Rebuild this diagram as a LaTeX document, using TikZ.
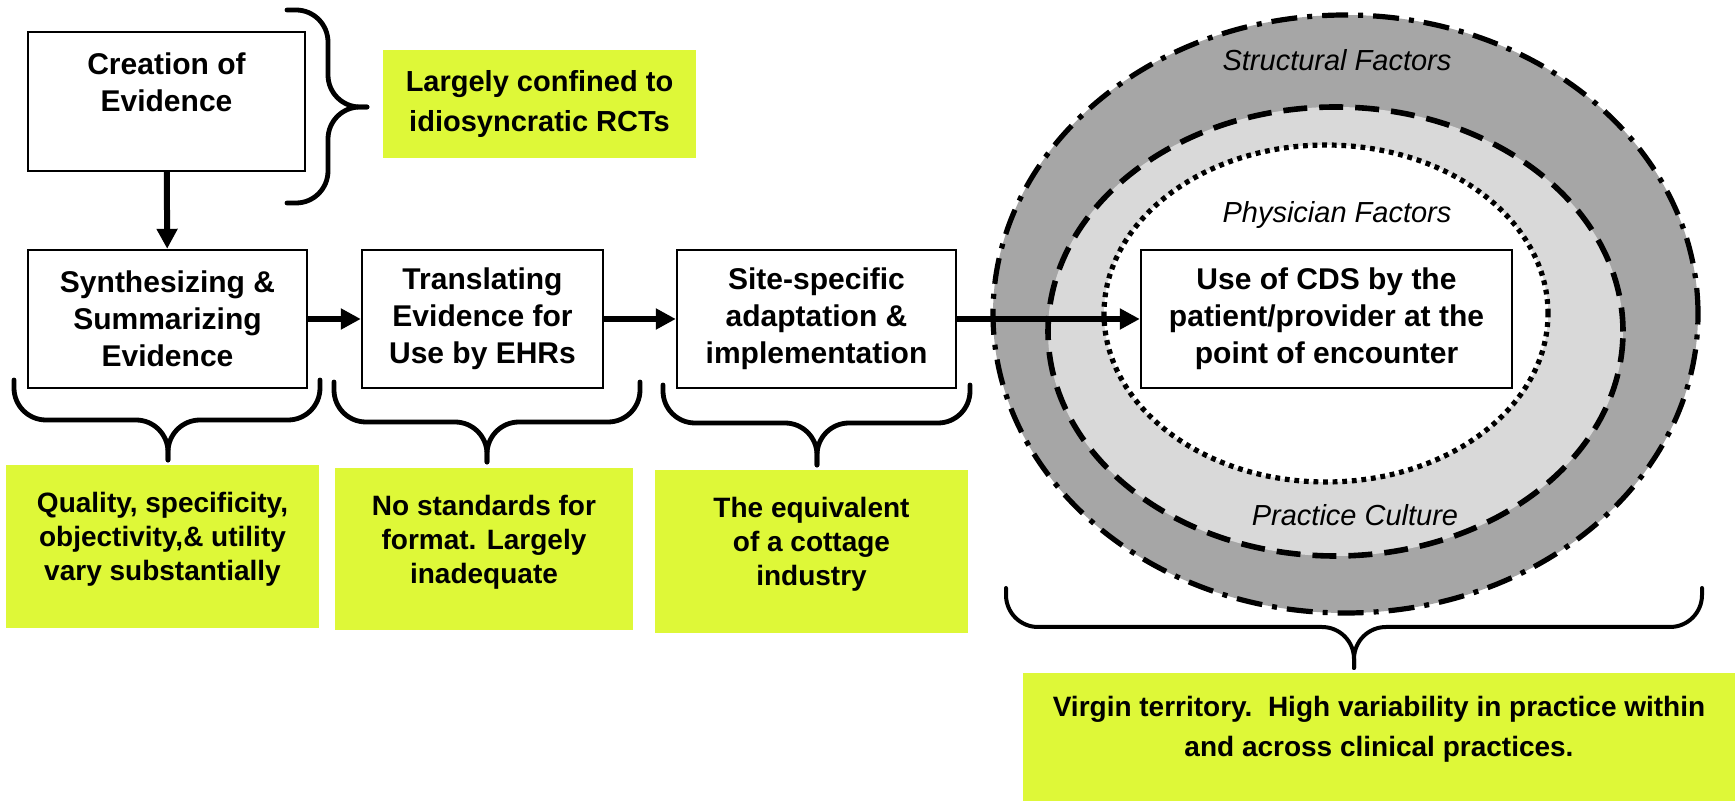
\documentclass[tikz,border=0pt]{standalone}
\usepackage{fontspec}
\setmainfont{Liberation Sans}
\usetikzlibrary{positioning,arrows.meta,shapes.geometric}
\definecolor{notegreen}{RGB}{222,248,56}
\definecolor{ringdark}{RGB}{166,166,166}
\definecolor{ringlight}{RGB}{217,217,217}

\begin{document}
\begin{tikzpicture}[x=0.5pt, y=-0.5pt,
  every node/.style={align=center},
  stage/.style={draw, line width=1.2pt, fill=white, inner sep=0pt,
    font=\fontsize{15}{18.5}\selectfont\bfseries, minimum height=69pt},
  note/.style={fill=notegreen, inner sep=0pt, font=\fontsize{14}{17}\selectfont\bfseries},
  ring/.style={font=\fontsize{14.5}{17}\selectfont\itshape},
  zone/.style={ellipse, inner sep=0pt},
  flow/.style={line width=3pt, -{Triangle[length=10pt,width=10pt]}},
  brace/.style={line width=2.4pt, rounded corners=16pt, line cap=round}]
  \useasboundingbox (0,0) rectangle (1735,801);

  \node[zone, fill=ringdark, draw, line width=2.6pt, dash pattern=on 13pt off 5pt on 2.5pt off 5pt,
    minimum width=352.5pt, minimum height=299pt] (outer) at (1345.5,314) {};
  \node[zone, fill=ringlight, draw, line width=2.8pt, dash pattern=on 12pt off 6pt,
    minimum width=287.5pt, minimum height=224.5pt] (middle) at (1335.5,331.5) {};
  \node[zone, fill=white, draw, line width=2.6pt, dash pattern=on 2.4pt off 2.4pt,
    minimum width=222pt, minimum height=168.5pt] (inner) at (1326,313.5) {};
  \node[ring] (structural) at (1337,60) {Structural Factors};
  \node[ring] (physician) at (1337,215) {Physician Factors};
  \node[ring] (culture) at (1355,515) {Practice Culture};

  \node[stage, minimum width=138.5pt, minimum height=69.5pt] (creation) at (166.5,101.5)
    {Creation of\\Evidence\\[-5pt]\strut};
  \node[stage, minimum width=139.5pt] (synth) at (167.5,319)
    {Synthesizing \&\\Summarizing\\Evidence};
  \node[stage, minimum width=120.5pt] (trans) at (482.5,319)
    {Translating\\Evidence for\\Use by EHRs};
  \node[stage, minimum width=139.5pt] (site) at (816.5,319)
    {Site-specific\\adaptation \&\\implementation};
  \node[stage, minimum width=185.5pt] (use) at (1326.5,319)
    {Use of CDS by the\\patient/provider at the\\point of encounter};

  \node[note, minimum width=156.5pt, minimum height=54pt,
    font=\fontsize{14.5}{20}\selectfont\bfseries] (rcts) at (539.5,104)
    {Largely confined to\\idiosyncratic RCTs};
  \node[note, minimum width=156.5pt, minimum height=81.5pt] (quality) at (162.5,546.5)
    {Quality, specificity,\\objectivity,\& utility\\vary substantially\\[-12pt]\strut};
  \node[note, minimum width=149pt, minimum height=81pt] (format) at (484,549)
    {No standards for\\format. Largely\\inadequate\\[-12pt]\strut};
  \node[note, minimum width=156.5pt, minimum height=81.5pt] (cottage) at (811.5,551.5)
    {The equivalent\\of a cottage\\industry\\[-12pt]\strut};
  \node[note, minimum width=356pt, minimum height=64pt,
    font=\fontsize{14}{20}\selectfont\bfseries] (virgin) at (1379,737)
    {Virgin territory.\ \ High variability in practice within\\and across clinical practices.\\[-15pt]\strut};

  \draw[flow] (creation) -- (synth);
  \draw[flow] (synth) -- (trans);
  \draw[flow] (trans) -- (site);
  \draw[flow] (site) -- (use);

  \draw[brace] (287,10) -- (328,10) -- (328,107) -- (367,107);
  \draw[brace] (287,203) -- (328,203) -- (328,107) -- (367,107);
  \draw[brace] (14,380) -- (14,420) -- (168,420) -- (168,460);
  \draw[brace] (320,380) -- (320,420) -- (168,420) -- (168,460);
  \draw[brace] (334,382) -- (334,422) -- (487,422) -- (487,462);
  \draw[brace] (640,382) -- (640,422) -- (487,422) -- (487,462);
  \draw[brace] (663,385) -- (663,423) -- (817,423) -- (817,465);
  \draw[brace] (970,385) -- (970,423) -- (817,423) -- (817,465);
  \draw[brace, line width=2pt] (1006,588) -- (1006,627) -- (1354,627) -- (1354,668);
  \draw[brace, line width=2pt] (1702,588) -- (1702,627) -- (1354,627) -- (1354,668);
\end{tikzpicture}
\end{document}
